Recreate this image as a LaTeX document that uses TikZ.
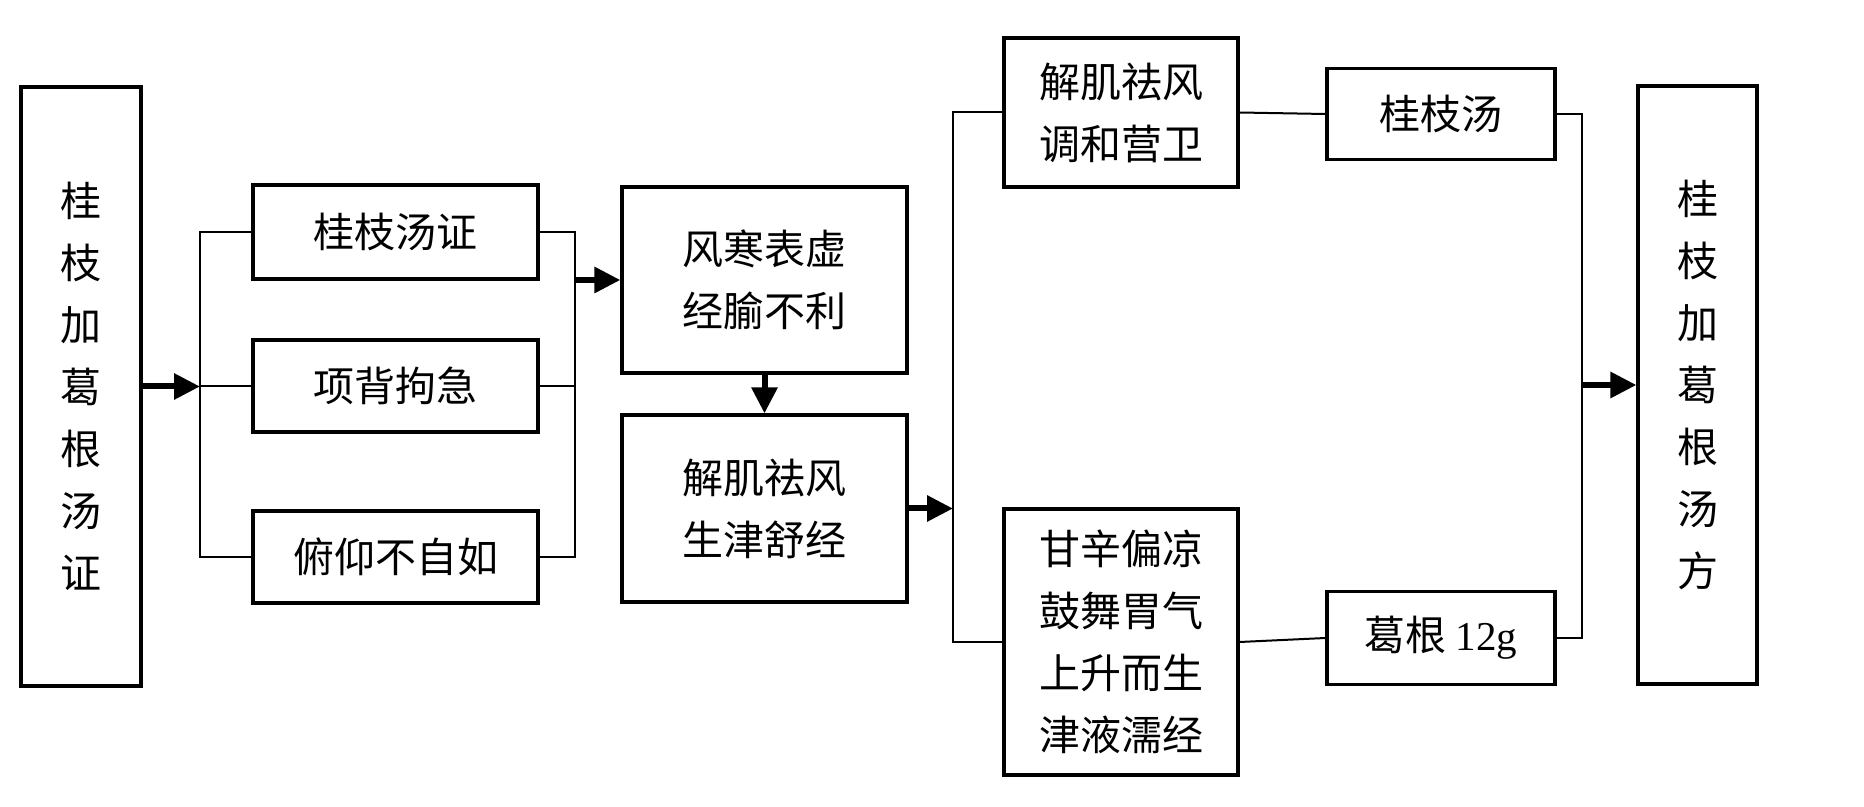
\documentclass[tikz,border=0pt]{standalone}
\usepackage{fontspec}
\setmainfont{Liberation Serif}
\newfontfamily\song{Noto Sans CJK SC}
\usetikzlibrary{arrows.meta}
\tikzset{
  box/.style={draw, line width=1.6pt, align=center, inner sep=0pt,
    font=\song\fontsize{20.5pt}{31pt}\selectfont},
  conn/.style={line width=1pt},
  arr/.style={line width=3pt, -{Triangle[length=13pt,width=12.5pt]}},
}
\begin{document}
\begin{tikzpicture}[x=0.5pt,y=-0.5pt]
\useasboundingbox (0,0) rectangle (1864,807);
% nodes
\node[box, minimum width=60pt, minimum height=299.5pt] (L) at (81,386.5) {桂\\枝\\加\\葛\\根\\汤\\证};
\node[box, minimum width=142.5pt, minimum height=47pt] (b1) at (395.5,232) {桂枝汤证};
\node[box, minimum width=142.5pt, minimum height=46pt] (b2) at (395.5,386) {项背拘急};
\node[box, minimum width=142.5pt, minimum height=46pt] (b3) at (395.5,557) {俯仰不自如};
\node[box, minimum width=142.5pt, minimum height=93pt] (fh) at (764.5,280) {风寒表虚\\经腧不利};
\node[box, minimum width=142.5pt, minimum height=93.5pt] (jj) at (764.5,508.5) {解肌祛风\\生津舒经};
\node[box, minimum width=117pt, minimum height=74.5pt] (t1) at (1121,112.5) {解肌祛风\\调和营卫};
\node[box, minimum width=117pt, minimum height=133pt] (t2) at (1121,642) {甘辛偏凉\\鼓舞胃气\\上升而生\\津液濡经};
\node[box, minimum width=114pt, minimum height=45.5pt] (gz) at (1441,114) {桂枝汤};
\node[box, minimum width=114pt, minimum height=46.5pt] (gg) at (1441,638) {葛根 {\rmfamily 12g}};
\node[box, minimum width=59.5pt, minimum height=299pt] (R) at (1697.5,385) {桂\\枝\\加\\葛\\根\\汤\\方};
% junction coordinates
\coordinate (jl) at (200,0);
\coordinate (jr) at (575,0);
\coordinate (jm) at (953,0);
\coordinate (jr2) at (1582,0);
% left bracket
\draw[arr] (L.east) -- (L.east -| jl);
\draw[conn] (b1.west) -- (b1.west -| jl) -- (b3.west -| jl) -- (b3.west);
\draw[conn] (b2.west) -- (b2.west -| jl);
% right bracket
\draw[conn] (b1.east) -- (b1.east -| jr) -- (b3.east -| jr) -- (b3.east);
\draw[conn] (b2.east) -- (b2.east -| jr);
\draw[arr] (fh.west -| jr) -- (fh.west);
% down arrow
\draw[arr] (fh.south) -- (jj.north);
% middle
\draw[arr] (jj.east) -- (jj.east -| jm);
\draw[conn] (t1.west) -- (t1.west -| jm) -- (t2.west -| jm) -- (t2.west);
\draw[conn] (t1.east) -- (gz.west);
\draw[conn] (t2.east) -- (gg.west);
% right
\draw[conn] (gz.east) -- (gz.east -| jr2) -- (gg.east -| jr2) -- (gg.east);
\draw[arr] (R.west -| jr2) -- (R.west);
\end{tikzpicture}
\end{document}
